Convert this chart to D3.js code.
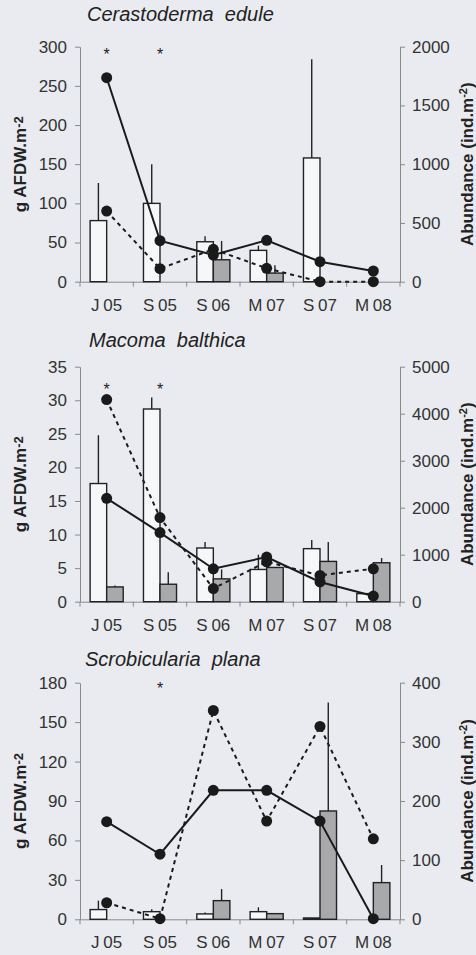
<!DOCTYPE html>
<html lang="en">
<head>
    <meta charset="UTF-8">
    <title>Bivalve biomass and abundance</title>
    <script src="https://d3js.org/d3.v7.min.js"></script>
    <style>
        body { margin: 0; background: #e9ebf1; }
        svg text { font-family: "Liberation Sans", Arial, sans-serif; fill: #222; }
        .axis path, .axis line { stroke: #8a8a8a; }
        .axis text { font-size: 17px; fill: #333; }
    </style>
</head>
<body>
    <script>
        // sampling dates
        const months = ["J 05", "S 05", "S 06", "M 07", "S 07", "M 08"];

        // Cerastoderma edule
        const cerOpen = [78, 100, 51, 40, 158, 0];
        const cerOpenSd = [48, 50, 7, 6, 126, 0];
        const cerGrey = [0, 0, 28, 11, 0, 0];
        const cerGreySd = [0, 0, 24, 10, 0, 0];
        const cerSolid = [1736, 349, 227, 352, 170, 91];
        const cerDashed = [601, 111, 276, 114, 0, 0];
        const cerStar = [1, 1, 0, 0, 0, 0];
        const cerLeftTicks = [0, 50, 100, 150, 200, 250, 300];
        const cerRightTicks = [0, 500, 1000, 1500, 2000];

        // Macoma balthica
        const macOpen = [17.6, 28.7, 8.0, 4.8, 7.9, 1.2];
        const macOpenSd = [7.2, 1.7, 0.9, 2.2, 1.3, 0];
        const macGrey = [2.2, 2.6, 3.4, 5.1, 6.0, 5.8];
        const macGreySd = [0.2, 1.8, 1.4, 0, 2.9, 0.7];
        const macSolid = [2200, 1470, 700, 950, 420, 120];
        const macDashed = [4300, 1790, 280, 850, 560, 700];
        const macStar = [1, 1, 0, 0, 0, 0];
        const macLeftTicks = [0, 5, 10, 15, 20, 25, 30, 35];
        const macRightTicks = [0, 1000, 2000, 3000, 4000, 5000];

        // Scrobicularia plana
        const scrOpen = [7.4, 5.8, 4.1, 5.8, 1, 0];
        const scrOpenSd = [6.8, 1.8, 1.0, 3.3, 0, 0];
        const scrGrey = [0, 0, 14.2, 4.3, 82.4, 27.9];
        const scrGreySd = [0, 0, 8.8, 0, 82.6, 13.4];
        const scrSolid = [165, 110, 218, 218, 166, 1];
        const scrDashed = [28, 1, 353, 166, 326, 136];
        const scrStar = [0, 1, 0, 0, 0, 0];
        const scrLeftTicks = [0, 30, 60, 90, 120, 150, 180];
        const scrRightTicks = [0, 100, 200, 300, 400];

        const width = 476, height = 955;
        const left = 80, right = 400;

        const svg = d3.select("body").append("svg")
            .attr("width", width)
            .attr("height", height);

        const panels = [
            { title: "Cerastoderma  edule", top: 46.7, bottom: 281.7, titleY: 21, titleX: 87,
              open: cerOpen, openSd: cerOpenSd, grey: cerGrey, greySd: cerGreySd,
              solid: cerSolid, dashed: cerDashed, star: cerStar, starAt: 294,
              leftTicks: cerLeftTicks, rightTicks: cerRightTicks },
            { title: "Macoma  balthica", top: 366.7, bottom: 601.7, titleY: 347, titleX: 89,
              open: macOpen, openSd: macOpenSd, grey: macGrey, greySd: macGreySd,
              solid: macSolid, dashed: macDashed, star: macStar, starAt: 32.1,
              leftTicks: macLeftTicks, rightTicks: macRightTicks },
            { title: "Scrobicularia  plana", top: 682.7, bottom: 919.3, titleY: 666, titleX: 85,
              open: scrOpen, openSd: scrOpenSd, grey: scrGrey, greySd: scrGreySd,
              solid: scrSolid, dashed: scrDashed, star: scrStar, starAt: 178,
              leftTicks: scrLeftTicks, rightTicks: scrRightTicks }
        ];

        const x = d3.scaleBand().domain(months).range([left, right]).paddingInner(0).paddingOuter(0);
        const barW = x.bandwidth() * 0.31;
        const cx = d => x(d) + x.bandwidth() / 2;

        panels.forEach(p => drawPanel(p));

        function drawPanel(p) {
            const yL = d3.scaleLinear()
                .domain([0, d3.max(p.leftTicks)])
                .range([p.bottom, p.top]);
            const yR = d3.scaleLinear()
                .domain([0, d3.max(p.rightTicks)])
                .range([p.bottom, p.top]);

            const g = svg.append("g");

            // title
            g.append("text")
                .attr("x", p.titleX)
                .attr("y", p.titleY)
                .style("font-size", "20px")
                .style("font-style", "italic")
                .style("white-space", "pre")
                .text(p.title);

            // axes
            g.append("g").attr("class", "axis")
                .attr("transform", `translate(${left},0)`)
                .call(d3.axisLeft(yL).tickValues(p.leftTicks).tickSize(5).tickSizeOuter(0).tickPadding(8));

            g.append("g").attr("class", "axis")
                .attr("transform", `translate(${right},0)`)
                .call(d3.axisRight(yR).tickValues(p.rightTicks).tickFormat(d3.format("d"))
                    .tickSize(5).tickSizeOuter(0).tickPadding(7));

            const xa = g.append("g").attr("class", "axis")
                .attr("transform", `translate(0,${p.bottom})`)
                .call(d3.axisBottom(x).tickSize(0).tickPadding(17));
            xa.selectAll("text").style("font-size", "17px").style("word-spacing", "-1px").attr("dy", "0.71em");

            // tick marks sit on the category boundaries
            const bounds = months.map(m => x(m)).concat([right]);
            xa.selectAll(".bound").data(bounds).enter().append("line")
                .attr("class", "bound")
                .attr("x1", d => d).attr("x2", d => d)
                .attr("y1", 0).attr("y2", 5);

            // y titles
            const lt = g.append("text")
                .attr("transform", `translate(26,${(p.top + p.bottom) / 2}) rotate(-90)`)
                .attr("text-anchor", "middle")
                .style("font-size", "17px")
                .style("font-weight", "bold");
            lt.append("tspan").text("g AFDW.m");
            lt.append("tspan").attr("dy", -3).style("font-size", "13px").text("-2");

            const rt = g.append("text")
                .attr("transform", `translate(473,${(p.top + p.bottom) / 2}) rotate(-90)`)
                .attr("text-anchor", "middle")
                .style("font-size", "17px")
                .style("font-weight", "bold");
            rt.append("tspan").text("Abundance (ind.m");
            rt.append("tspan").attr("dy", -6).style("font-size", "11px").text("-2");
            rt.append("tspan").attr("dy", 6).text(")");

            // bars
            const rows = months.map((m, i) => ({
                m, open: p.open[i], openSd: p.openSd[i], grey: p.grey[i], greySd: p.greySd[i],
                solid: p.solid[i], dashed: p.dashed[i], star: p.star[i]
            }));

            const bars = [];
            rows.forEach(r => {
                if (r.open > 0) bars.push({ x0: cx(r.m) - barW, v: r.open, sd: r.openSd, fill: "#f6f7f9" });
                if (r.grey > 0) bars.push({ x0: cx(r.m), v: r.grey, sd: r.greySd, fill: "#a9a9ab" });
            });

            g.selectAll(".err").data(bars.filter(b => b.sd > 0)).enter().append("line")
                .attr("x1", b => b.x0 + barW / 2).attr("x2", b => b.x0 + barW / 2)
                .attr("y1", b => yL(b.v)).attr("y2", b => yL(b.v + b.sd))
                .attr("stroke", "#222").attr("stroke-width", 1.4);

            g.selectAll(".bar").data(bars).enter().append("rect")
                .attr("x", b => b.x0)
                .attr("y", b => yL(b.v))
                .attr("width", barW)
                .attr("height", b => yL(0) - yL(b.v))
                .attr("fill", b => b.fill)
                .attr("stroke", "#222")
                .attr("stroke-width", 1.4);

            // abundance lines
            const lineS = d3.line().x(r => cx(r.m)).y(r => yR(r.solid));
            const lineD = d3.line().x(r => cx(r.m)).y(r => yR(r.dashed));

            g.append("path").datum(rows)
                .attr("d", lineD)
                .attr("fill", "none")
                .attr("stroke", "#1a1a1a")
                .attr("stroke-width", 2)
                .attr("stroke-dasharray", "4,4");

            g.append("path").datum(rows)
                .attr("d", lineS)
                .attr("fill", "none")
                .attr("stroke", "#1a1a1a")
                .attr("stroke-width", 2);

            g.selectAll(".dotD").data(rows).enter().append("circle")
                .attr("cx", r => cx(r.m)).attr("cy", r => yR(r.dashed))
                .attr("r", 5.5).attr("fill", "#1a1a1a");

            g.selectAll(".dotS").data(rows).enter().append("circle")
                .attr("cx", r => cx(r.m)).attr("cy", r => yR(r.solid))
                .attr("r", 5.5).attr("fill", "#1a1a1a");

            // significance marks
            g.selectAll(".star").data(rows.filter(r => r.star)).enter().append("text")
                .attr("x", r => cx(r.m))
                .attr("y", yL(p.starAt) + 9)
                .attr("text-anchor", "middle")
                .style("font-size", "16px")
                .text("*");
        }
    </script>
</body>
</html>
